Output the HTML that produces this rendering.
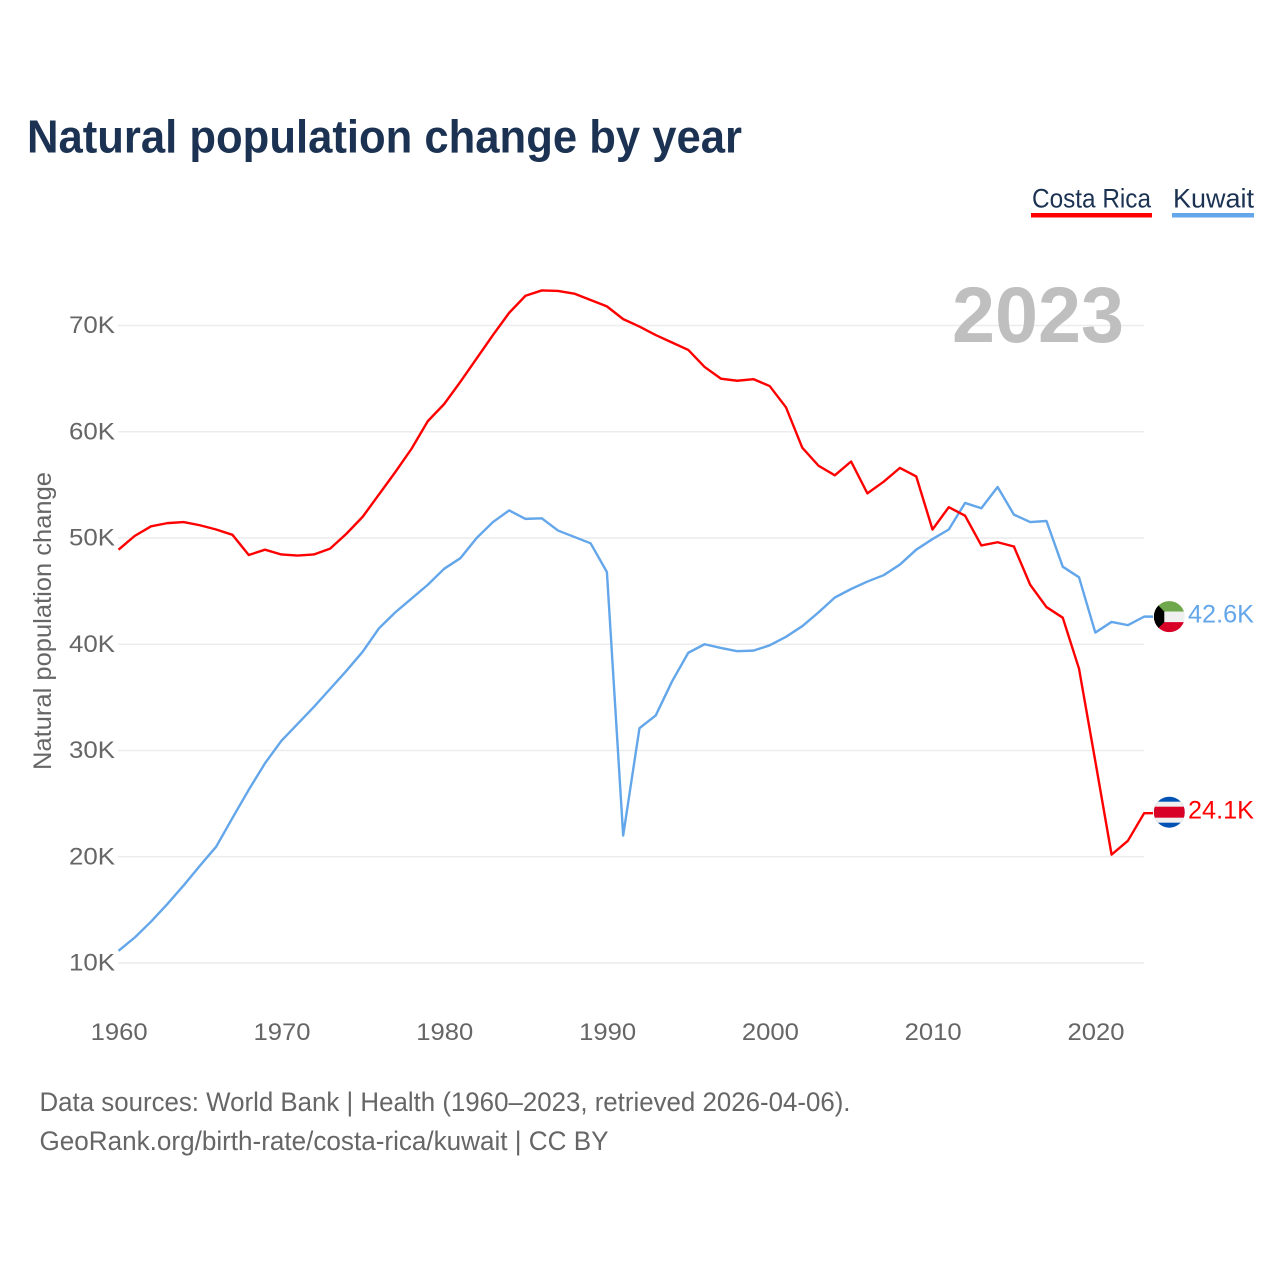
<!DOCTYPE html>
<html lang="en">
<head>
<meta charset="utf-8">
<title>Natural population change by year</title>
<style>
html,body{margin:0;padding:0;background:#fff;}
svg{display:block;font-family:"Liberation Sans",sans-serif;}
</style>
</head>
<body>
<svg id="chart" xmlns="http://www.w3.org/2000/svg" width="1280" height="1280" viewBox="0 0 1280 1280">
  <rect x="0" y="0" width="1280" height="1280" fill="#fff"/>
  <text x="27" y="152.5" font-size="46" font-weight="700" fill="#1b3252" textLength="715" lengthAdjust="spacingAndGlyphs">Natural population change by year</text>
  <g id="grid"></g>
  <text x="1124" y="342" text-anchor="end" font-size="79" font-weight="700" fill="#bfbfbf" textLength="172" lengthAdjust="spacingAndGlyphs">2023</text>
  <g id="yticks"></g>
  <g id="xticks"></g>
  <text transform="translate(51 621) rotate(-90)" text-anchor="middle" font-size="25" fill="#666" textLength="298" lengthAdjust="spacingAndGlyphs">Natural population change</text>
  <g id="series"></g>
  <g id="ends"></g>
  <g>
    <g>
      <text x="1032" y="207.5" font-size="27" fill="#1b3252" textLength="119" lengthAdjust="spacingAndGlyphs">Costa Rica</text>
      <rect x="1031" y="213" width="121" height="4.5" fill="#ff0000"/>
    </g>
    <g>
      <text x="1173" y="207.5" font-size="27" fill="#1b3252" textLength="81" lengthAdjust="spacingAndGlyphs">Kuwait</text>
      <rect x="1172" y="213" width="82" height="4.5" fill="#63a6ea"/>
    </g>
  </g>
  <text x="39.5" y="1111" font-size="27" fill="#666" textLength="811" lengthAdjust="spacingAndGlyphs">Data sources: World Bank | Health (1960–2023, retrieved 2026-04-06).</text>
  <text x="39.5" y="1150" font-size="27" fill="#666" textLength="569" lengthAdjust="spacingAndGlyphs">GeoRank.org/birth-rate/costa-rica/kuwait | CC BY</text>
</svg>
<script>
const startYear = 1960;
const costaRica = [48.9,50.2,51.1,51.4,51.5,51.2,50.8,50.3,48.4,48.9,48.45,48.35,48.45,49.0,50.4,52.0,54.1,56.2,58.4,61.0,62.6,64.7,66.9,69.1,71.2,72.8,73.3,73.25,73.0,72.4,71.8,70.6,69.9,69.1,68.4,67.7,66.1,65.0,64.8,64.95,64.3,62.3,58.5,56.8,55.9,57.2,54.2,55.3,56.6,55.8,50.8,52.9,52.1,49.3,49.6,49.2,45.6,43.5,42.5,37.7,29.0,20.2,21.5,24.1];
const kuwait = [11.15,12.4,13.9,15.55,17.3,19.15,20.95,23.65,26.3,28.8,30.9,32.5,34.1,35.8,37.5,39.3,41.5,43.0,44.3,45.6,47.1,48.1,50.0,51.5,52.6,51.8,51.85,50.7,50.1,49.5,46.8,22.0,32.1,33.3,36.5,39.2,40.0,39.65,39.35,39.4,39.9,40.7,41.7,43.0,44.4,45.2,45.9,46.5,47.5,48.9,49.9,50.8,53.3,52.8,54.8,52.2,51.5,51.6,47.3,46.3,41.1,42.1,41.8,42.6];
const yTickValues = [10,20,30,40,50,60,70];
const xTickYears = [1960,1970,1980,1990,2000,2010,2020];

const NS = 'http://www.w3.org/2000/svg';
function xScale(year){ return 118.5 + (year - 1960) * 16.28; }
function yScale(v){ return 963 - (v - 10) * 10.625; }
function make(tag, attrs, parent){
  const el = document.createElementNS(NS, tag);
  for (const k in attrs) el.setAttribute(k, attrs[k]);
  parent.appendChild(el);
  return el;
}
const grid = document.getElementById('grid');
const yticks = document.getElementById('yticks');
const xticks = document.getElementById('xticks');
const series = document.getElementById('series');
const ends = document.getElementById('ends');

yTickValues.forEach(function(v){
  const line = make('line', {x1:118, x2:1144, y1:yScale(v), y2:yScale(v), stroke:'#ececec', 'stroke-width':1.6}, grid);
  
  
  const t = make('text', {x:115, y:yScale(v)+7.5, 'text-anchor':'end', 'font-size':24, fill:'#666', textLength:46, lengthAdjust:'spacingAndGlyphs'}, yticks);
  t.textContent = v + 'K';
  
  
});
xTickYears.forEach(function(year){
  const t = make('text', {x:xScale(year)+0.7, y:1040, 'text-anchor':'middle', 'font-size':24, fill:'#666', textLength:57, lengthAdjust:'spacingAndGlyphs'}, xticks);
  t.textContent = String(year);
  
  
});
function linePoints(values){
  const pts = values.map(function(v, i){ return xScale(startYear + i).toFixed(2) + ',' + yScale(v).toFixed(2); });
  const last = values[values.length - 1];
  pts.push('1153,' + yScale(last).toFixed(2));
  return pts.join(' ');
}
const kuwaitLine = make('polyline', {points:linePoints(kuwait), fill:'none', stroke:'#63a6ea', 'stroke-width':2.4, 'stroke-linejoin':'round'}, series);


const costaLine = make('polyline', {points:linePoints(costaRica), fill:'none', stroke:'#ff0000', 'stroke-width':2.4, 'stroke-linejoin':'round'}, series);



function fmt(v){ return v.toFixed(1) + 'K'; }

const FX = 1169.3;
const FR = 15.5;
const FL = FX - FR;
const kY = yScale(kuwait[kuwait.length - 1]);
const cY = yScale(costaRica[costaRica.length - 1]);
const kc = kY;
const cc = cY - 1;

const defs = make('defs', {}, ends);
const clipK = make('clipPath', {id:'clip-kw'}, defs);
make('circle', {cx:FX, cy:kc, r:FR}, clipK);
const clipC = make('clipPath', {id:'clip-cr'}, defs);
make('circle', {cx:FX, cy:cc, r:FR}, clipC);

const kwFlag = make('g', {'clip-path':'url(#clip-kw)'}, ends);


make('rect', {x:FL, y:kc-16, width:31, height:11, fill:'#6fa84c'}, kwFlag);
make('rect', {x:FL, y:kc-5, width:31, height:10.5, fill:'#f0f0f0'}, kwFlag);
make('rect', {x:FL, y:kc+5.5, width:31, height:11, fill:'#d80027'}, kwFlag);
make('polygon', {points:[[FL,kc-16],[FL+10.5,kc-5],[FL+10.5,kc+5.5],[FL,kc+16]].map(function(p){return p.join(',');}).join(' '), fill:'#000'}, kwFlag);

const kwLabel = make('text', {x:1188, y:kY+6, 'font-size':25, fill:'#63a6ea', textLength:66, lengthAdjust:'spacingAndGlyphs'}, ends);
kwLabel.textContent = fmt(kuwait[kuwait.length - 1]);



const crFlag = make('g', {'clip-path':'url(#clip-cr)'}, ends);


make('rect', {x:FL, y:cc-16, width:31, height:32, fill:'#0052b4'}, crFlag);
make('rect', {x:FL, y:cc-10.5, width:31, height:21, fill:'#f0f0f0'}, crFlag);
make('rect', {x:FL, y:cc-5.5, width:31, height:11, fill:'#d80027'}, crFlag);

const crLabel = make('text', {x:1188, y:cY+5.5, 'font-size':25, fill:'#ff0000', textLength:66, lengthAdjust:'spacingAndGlyphs'}, ends);
crLabel.textContent = fmt(costaRica[costaRica.length - 1]);


</script>
</body>
</html>
